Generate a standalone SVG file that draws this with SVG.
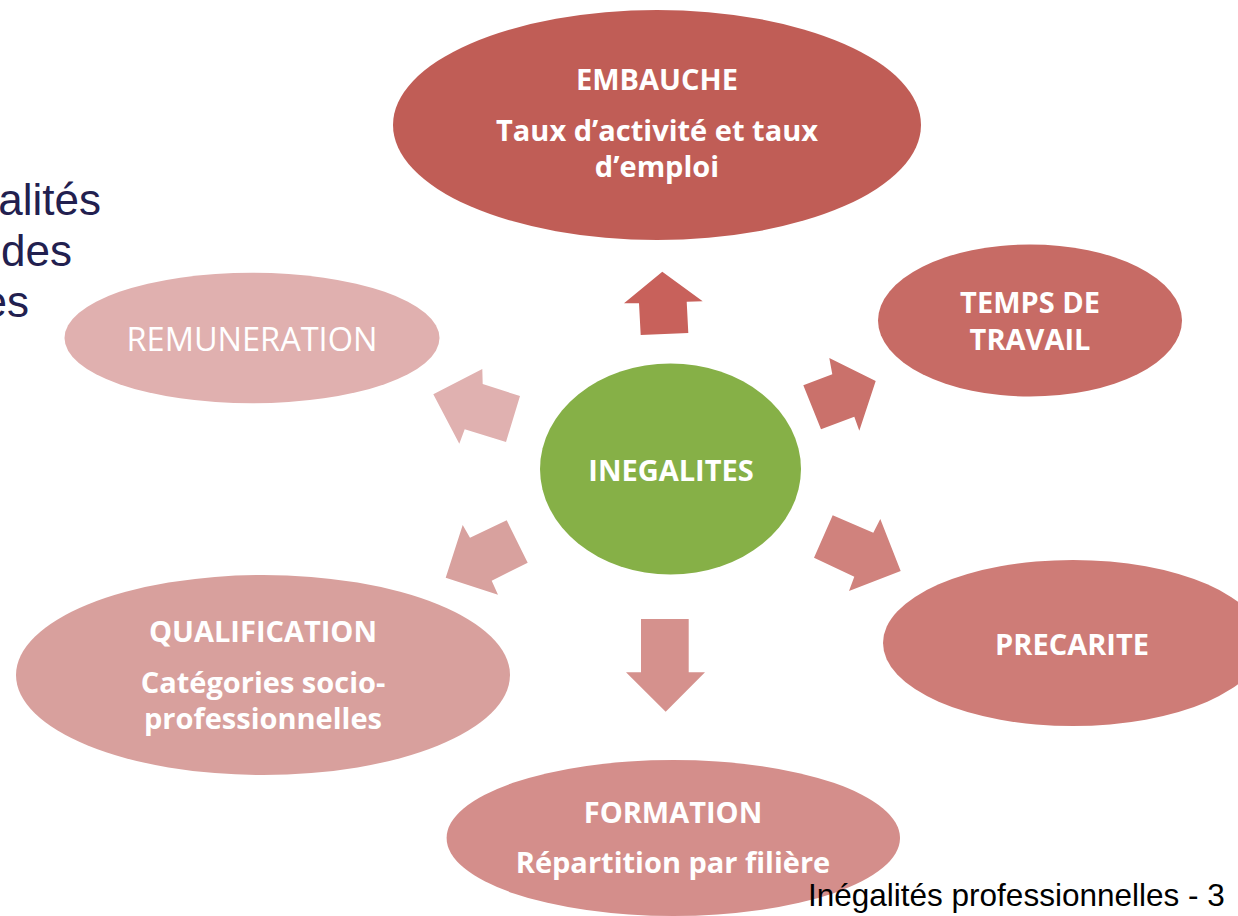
<svg xmlns="http://www.w3.org/2000/svg" width="1238" height="916" viewBox="0 0 1238 916">
<style>
.lbl{font-family:"Open Sans","Liberation Sans",sans-serif;font-weight:bold;font-size:29px;fill:#ffffff;text-anchor:middle}
.reg{font-family:"Open Sans","Liberation Sans",sans-serif;font-weight:normal;font-size:32.5px;fill:#ffffff;text-anchor:middle}
.side{font-family:"Liberation Sans",Arial,sans-serif;font-size:44px;fill:#22204f;text-anchor:end}
.foot{font-family:"Liberation Sans",Arial,sans-serif;font-size:31.5px;fill:#000000}
</style>
<rect width="1238" height="916" fill="#ffffff"/>
<g id="side-text">
<text class="side" x="101" y="215">alités</text>
<text class="side" x="72" y="266">des</text>
<text class="side" x="29" y="317">es</text>
</g>
<g id="connectors">
<polygon fill="#c8615b" points="662.3,271.7 702.7,301.3 686.7,301.7 688.3,333 640.7,335 639,303.3 624,303.3"/>
<polygon fill="#ca716b" points="803.3,385.3 832.3,374.3 829.3,358 875.7,381 859.3,430.7 854.3,416.7 821,429.3"/>
<polygon fill="#d0827d" points="832.7,515.3 873.3,532.7 880.3,519 900.7,571 849,591 854.3,576.7 814,557.7"/>
<polygon fill="#d5918d" points="641,619 688.7,619 688.7,672.3 705,672.3 665.7,711.7 626,672.3 641,672.3"/>
<polygon fill="#d8a19e" points="506.7,520.3 527.7,562.7 491.7,580.7 498,594.7 445.7,577.7 462.7,525 470,537.7"/>
<polygon fill="#e0b1b0" points="520,396 482.7,384 482.3,369 433.3,394.3 459.3,443.7 464.7,429.3 506,442"/>
</g>
<g id="embauche">
<ellipse cx="657" cy="125" rx="264" ry="115" fill="#c05d56"/>
<text class="lbl" x="657" y="90">EMBAUCHE</text>
<text class="lbl" x="657" y="141">Taux d’activité et taux</text>
<text class="lbl" x="657" y="177">d’emploi</text>
</g>
<g id="temps">
<ellipse cx="1030" cy="320.5" rx="152" ry="76" fill="#c76b65"/>
<text class="lbl" x="1030" y="313">TEMPS DE</text>
<text class="lbl" x="1030" y="350">TRAVAIL</text>
</g>
<g id="precarite">
<ellipse cx="1073" cy="643" rx="190" ry="83" fill="#ce7c77"/>
<text class="lbl" x="1072" y="655">PRECARITE</text>
</g>
<g id="formation">
<ellipse cx="673.3" cy="838" rx="226.7" ry="78" fill="#d48e8b"/>
<text class="lbl" x="673" y="823">FORMATION</text>
<text class="lbl" x="673" y="873">Répartition par filière</text>
</g>
<g id="qualification">
<ellipse cx="263" cy="675" rx="247" ry="100" fill="#d8a09d"/>
<text class="lbl" x="263" y="642">QUALIFICATION</text>
<text class="lbl" x="263" y="693">Catégories socio-</text>
<text class="lbl" x="263" y="729">professionnelles</text>
</g>
<g id="remuneration">
<ellipse cx="252" cy="338" rx="187.5" ry="65.3" fill="#e0b0af"/>
<text class="reg" x="252" y="351">REMUNERATION</text>
</g>
<g id="inegalites">
<ellipse cx="670.5" cy="469" rx="130.5" ry="105.5" fill="#86b047"/>
<text class="lbl" x="671" y="481">INEGALITES</text>
</g>
<g id="footer">
<text class="foot" x="808" y="906">Inégalités professionnelles - 3</text>
</g>
</svg>
